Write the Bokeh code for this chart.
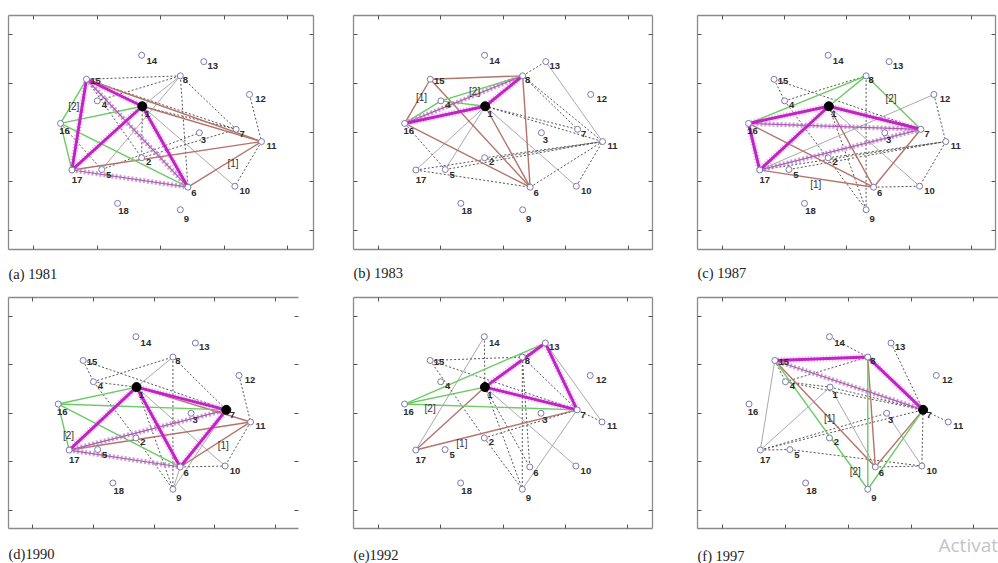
from bokeh.plotting import figure
from bokeh.models import LinearAxis, ColumnDataSource, Range1d, FixedTicker, Label
from bokeh.layouts import column, row
from bokeh.embed import file_html
from bokeh.resources import INLINE
from bokeh.core.properties import value

# ---------------- data ----------------
node_ids = list(range(1, 19))
node_x = [1.71, 1.70, 2.61, 1.00, 1.07, 2.43, 3.19, 2.31, 2.31, 3.17, 3.59, 3.40, 2.68, 1.70, 0.83, 0.42, 0.60, 1.32]
node_y = [2.54, 1.49, 2.00, 2.65, 1.25, 0.89, 2.07, 3.16, 0.43, 0.91, 1.82, 2.78, 3.45, 3.58, 3.09, 2.19, 1.24, 0.56]

years = ["(a) 1981", "(b) 1983", "(c) 1987", "(d)1990", "(e)1992", "(f) 1997"]
watermark = "Activate Windows"

# 1981
a_mag = [(15, 1), (1, 6), (17, 1), (15, 17)]
a_magx = [(17, 6), (15, 6)]
a_green = [(15, 16), (16, 17), (16, 1), (16, 6)]
a_brown = [(15, 11), (1, 11), (17, 11), (6, 11)]
a_dot = [(15, 8), (4, 8), (8, 7), (8, 6), (1, 7), (15, 7), (1, 2), (15, 2), (12, 11), (11, 10), (5, 3), (16, 5), (2, 7)]
a_gray = [(5, 8), (1, 10), (1, 8)]
a_hubs = [1]
a_tags = [("[2]", 0.63, 2.54), ("[1]", 3.14, 1.37)]

# 1983
b_mag = [(16, 1), (1, 8)]
b_magx = [(16, 8)]
b_green = [(16, 4), (4, 8), (4, 1)]
b_brown = [(16, 15), (15, 8), (15, 6), (16, 6), (1, 6), (8, 6)]
b_dot = [(8, 13), (8, 7), (8, 11), (1, 7), (1, 11), (16, 5), (17, 11), (5, 11), (17, 6), (6, 11), (10, 11), (2, 11)]
b_gray = [(13, 11), (1, 10), (17, 1), (5, 1)]
b_hubs = [1]
b_tags = [("[1]", 0.69, 2.72), ("[2]", 1.54, 2.84)]

# 1987
c_mag = [(16, 1), (1, 7), (16, 17), (17, 1)]
c_magx = [(16, 7), (17, 7)]
c_green = [(16, 8), (1, 8), (8, 7)]
c_brown = [(16, 6), (17, 6), (1, 6), (6, 7)]
c_dot = [(8, 9), (4, 9), (15, 4), (15, 7), (4, 8), (12, 11), (11, 10), (17, 11), (6, 10), (5, 11), (1, 9), (2, 11)]
c_gray = [(12, 17), (1, 10)]
c_hubs = [1]
c_tags = [("[2]", 2.71, 2.69), ("[1]", 1.50, 0.95)]

# 1990
d_mag = [(17, 1), (1, 6), (1, 7), (6, 7)]
d_magx = [(17, 6), (17, 7)]
d_green = [(16, 1), (16, 7), (16, 6), (16, 17)]
d_brown = [(17, 11), (6, 11), (1, 11)]
d_dot = [(15, 7), (4, 8), (8, 9), (8, 7), (12, 11), (4, 2), (6, 10), (11, 10), (1, 9), (4, 1), (15, 4), (2, 9)]
d_gray = [(8, 1), (1, 10), (6, 9), (9, 7)]
d_hubs = [1, 7]
d_tags = [("[2]", 0.59, 1.54), ("[1]", 3.14, 1.33)]

# 1992
e_mag = [(1, 13), (13, 7), (1, 7)]
e_magx = []
e_green = [(16, 13), (16, 1), (16, 7)]
e_brown = [(17, 1), (17, 7)]
e_dot = [(15, 8), (15, 7), (15, 2), (14, 1), (8, 6), (8, 9), (1, 9), (1, 6), (2, 7), (7, 11), (8, 7), (2, 9)]
e_gray = [(14, 17), (13, 11), (7, 9), (1, 10)]
e_hubs = [1]
e_tags = [("[2]", 0.83, 2.10), ("[1]", 1.34, 1.37)]

# 1997
f_mag = [(15, 8), (8, 7)]
f_magx = [(15, 7)]
f_green = [(15, 9), (8, 9), (9, 7)]
f_brown = [(15, 6), (8, 6), (6, 7)]
f_dot = [(17, 5), (17, 3), (4, 7), (4, 1), (14, 8), (13, 7), (7, 11), (7, 10), (6, 10), (5, 10), (1, 7), (4, 8), (17, 7), (15, 4)]
f_gray = [(15, 17), (1, 6), (17, 1), (10, 3)]
f_hubs = [7]
f_tags = [("[1]", 1.70, 1.90), ("[2]", 2.11, 0.80)]

label_dx = [5, 7, 4, 7, 7, 6, 6, 5, 6, 10, 10, 11, 9, 10, 9, 4, 5, 6]
label_dy = [8, 4, 7, 4, 5, 6, 5, 4, 9, 5, 4, 5, 4, 6, 2, 8, 10, 8]

# ---------------- layout (px) ----------------
# width, height, border left, right, top, bottom, x_end, right axis, right line
geom = [
    (333, 253, 8, 20, 12, 3, 4.41, True, True),
    (344, 253, 20, 25, 13, 3, 4.39, True, True),
    (321, 253, 20, 3, 15, 4, 4.39, True, True),
    (333, 250, 8, 35, 12, 7, 4.38, True, False),
    (344, 250, 20, 25, 9, 5, 4.40, True, True),
    (321, 250, 20, 0, 9, 3, 4.39, False, False),
]
# caption strips: height, and per panel (left x, y from strip bottom) in px
strip_h = [32, 28]
cap_pos = [(8, 12), (353, 13), (697, 13), (8, 10), (353, 9), (697, 8)]
wm_pos = (938, 19)

panels = [
    (a_mag, a_magx, a_green, a_brown, a_dot, a_gray, a_hubs, a_tags),
    (b_mag, b_magx, b_green, b_brown, b_dot, b_gray, b_hubs, b_tags),
    (c_mag, c_magx, c_green, c_brown, c_dot, c_gray, c_hubs, c_tags),
    (d_mag, d_magx, d_green, d_brown, d_dot, d_gray, d_hubs, d_tags),
    (e_mag, e_magx, e_green, e_brown, e_dot, e_gray, e_hubs, e_tags),
    (f_mag, f_magx, f_green, f_brown, f_dot, f_gray, f_hubs, f_tags),
]

pos = {n: (x, y) for n, x, y in zip(node_ids, node_x, node_y)}


def edge_source(pairs):
    return ColumnDataSource(dict(
        x0=[pos[a][0] for a, b in pairs], y0=[pos[a][1] for a, b in pairs],
        x1=[pos[b][0] for a, b in pairs], y1=[pos[b][1] for a, b in pairs]))


def style_axis(ax, line=True):
    ax.ticker = FixedTicker(ticks=[0, 1, 2, 3, 4])
    ax.major_tick_in = 4
    ax.major_tick_out = 0
    ax.minor_tick_line_color = None
    ax.major_label_text_color = None
    ax.major_label_standoff = 0
    ax.axis_line_color = "#8a8a8a" if line else None
    ax.axis_line_width = 1.3
    ax.major_tick_line_color = "#555555"


def make_panel(i):
    W, H, bl, br, bt, bb, xend, raxis, rline = geom[i]
    mag, magx, green, brown, dot, gray, hubs, tags = panels[i]
    p = figure(width=W, height=H, x_range=Range1d(-0.40, xend), y_range=Range1d(-0.38, 4.39),
               output_backend="svg", toolbar_location=None, title=None,
               x_axis_location=None, y_axis_location=None,
               min_border_left=bl, min_border_right=br, min_border_top=bt, min_border_bottom=bb)
    p.outline_line_color = None
    p.xgrid.visible = False
    p.ygrid.visible = False
    p.background_fill_color = "white"
    p.border_fill_color = "white"
    for loc in ["below", "left", "above"]:
        ax = LinearAxis()
        style_axis(ax)
        p.add_layout(ax, loc)
    if raxis:
        ax = LinearAxis()
        style_axis(ax, line=rline)
        p.add_layout(ax, "right")

    p.segment("x0", "y0", "x1", "y1", source=edge_source(gray), line_color="#aaaaaa", line_width=1)
    p.segment("x0", "y0", "x1", "y1", source=edge_source(dot), line_color="#555555", line_width=1,
              line_dash="2 2")
    p.segment("x0", "y0", "x1", "y1", source=edge_source(brown), line_color="#b5736a", line_width=1.4)
    p.segment("x0", "y0", "x1", "y1", source=edge_source(green), line_color="#6acb62", line_width=1.4)
    p.segment("x0", "y0", "x1", "y1", source=edge_source(magx), line_color="#b585bd", line_width=5,
              line_dash="2 2", line_alpha=0.75)
    p.segment("x0", "y0", "x1", "y1", source=edge_source(magx), line_color="#b05ab8", line_width=1.2)
    p.segment("x0", "y0", "x1", "y1", source=edge_source(mag), line_color="#dd90dd", line_width=6.5,
              line_dash="1 2", line_alpha=0.7)
    p.segment("x0", "y0", "x1", "y1", source=edge_source(mag), line_color="#c322c6", line_width=3)

    nodes = ColumnDataSource(dict(x=node_x, y=node_y, t=[str(n) for n in node_ids],
                                  dx=label_dx, dy=label_dy))
    p.scatter("x", "y", source=nodes, marker="circle", size=6, fill_color="white",
              line_color="#7a7ab0", line_width=1)
    hub_src = ColumnDataSource(dict(x=[pos[h][0] for h in hubs], y=[pos[h][1] for h in hubs]))
    p.scatter("x", "y", source=hub_src, marker="circle", size=9, fill_color="black", line_color="black")
    p.text("x", "y", text="t", source=nodes, x_offset="dx", y_offset="dy",
           text_font=value("Liberation Sans"), text_font_style="bold", text_font_size="9.5px",
           text_align="center", text_baseline="middle", text_color="#2a2a2a")
    tag_src = ColumnDataSource(dict(t=[t[0] for t in tags], x=[t[1] for t in tags], y=[t[2] for t in tags]))
    p.text("x", "y", text="t", source=tag_src, text_font=value("Liberation Sans"),
           text_font_size="10px", text_align="center", text_baseline="middle", text_color="#333333")
    return p


def make_strip(r):
    h = strip_h[r]
    s = figure(width=998, height=h, x_range=Range1d(0, 998), y_range=Range1d(0, h),
               output_backend="svg", toolbar_location=None, title=None,
               x_axis_location=None, y_axis_location=None,
               min_border_left=0, min_border_right=0, min_border_top=0, min_border_bottom=0)
    s.outline_line_color = None
    s.xgrid.visible = False
    s.ygrid.visible = False
    s.border_fill_color = "white"
    for i in range(3 * r, 3 * r + 3):
        x, y = cap_pos[i]
        s.add_layout(Label(x=x, y=y, x_units="screen", y_units="screen", text=years[i],
                           text_font="Liberation Serif", text_font_size="14.5px",
                           text_baseline="middle", text_color="#222222"))
    if r == 1:
        s.add_layout(Label(x=wm_pos[0], y=wm_pos[1], x_units="screen", y_units="screen",
                           text=watermark, text_font="Open Sans", text_font_size="19px",
                           text_baseline="middle", text_color="#c4c4c4"))
    return s


figs = [make_panel(i) for i in range(6)]
layout = column(row(figs[0], figs[1], figs[2]), make_strip(0),
                row(figs[3], figs[4], figs[5]), make_strip(1))
open("out.html", "w").write(file_html(layout, INLINE))
